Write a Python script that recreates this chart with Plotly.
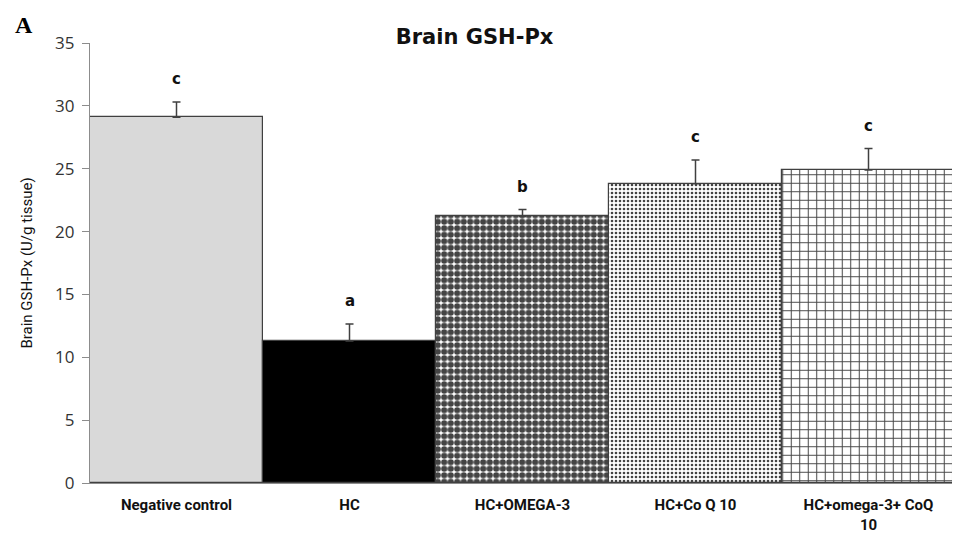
import plotly.graph_objects as go

categories = ["Negative control", "HC", "HC+OMEGA-3", "HC+Co Q 10", "HC+omega-3+ CoQ<br>10"]
means = [29.1, 11.3, 21.2, 23.8, 24.9]
errors = [1.2, 1.35, 0.55, 1.9, 1.7]
letters = ["c", "a", "b", "c", "c"]
tick_vals = [0, 5, 10, 15, 20, 25, 30, 35]

fill_colors = ["#d9d9d9", "#000000", "#ffffff", "#ffffff", "#ffffff"]
pattern_shapes = ["", "", ".", ".", "+"]
pattern_fg = ["#000000", "#000000", "#000000", "#a8a8a8", "#111111"]
pattern_size = [8, 8, 6.5, 4, 8.5]
pattern_solid = [0.3, 0.3, 0.7, 0.33, 0.22]

fig = go.Figure()
fig.add_trace(go.Bar(
    x=categories, y=means,
    marker=dict(
        color=fill_colors,
        line=dict(color="#404040", width=1.2),
        pattern=dict(shape=pattern_shapes, fgcolor=pattern_fg, bgcolor=fill_colors,
                     fgopacity=1, size=pattern_size, solidity=pattern_solid,
                     fillmode="overlay"),
    ),
    error_y=dict(type="data", symmetric=False, array=errors, arrayminus=[0]*len(errors),
                 color="#404040", thickness=1.5, width=4),
    width=1.0,
))

for cat, m, e, l in zip(categories, means, errors, letters):
    fig.add_annotation(x=cat, y=m + e, text=f"<b>{l}</b>", showarrow=False,
                       yshift=23, font=dict(family="DejaVu Sans", size=15, color="#111"))

fig.add_annotation(xref="paper", yref="paper", x=-0.089, y=1.041, text="<b>A</b>",
                   showarrow=False, xanchor="left", yanchor="middle",
                   font=dict(family="Liberation Serif", size=24, color="#000"))

fig.update_layout(
    width=960, height=533,
    margin=dict(l=82, r=13, t=35, b=58),
    paper_bgcolor="white", plot_bgcolor="white",
    title=dict(text="<b>Brain GSH-Px</b>", x=0.486, xanchor="center", y=0.946, yanchor="middle",
               font=dict(family="DejaVu Sans", size=21, color="#111")),
    bargap=0, showlegend=False,
    xaxis=dict(showline=True, linecolor="#8c8c8c", linewidth=1.2, ticks="",
               ticklabelstandoff=8, automargin=False,
               tickfont=dict(family="Roboto", size=15, color="#111"),
               tickprefix="<b>", ticksuffix="</b>"),
    yaxis=dict(range=[0, 35], tickvals=tick_vals, showline=True, linecolor="#8c8c8c",
               linewidth=1.2, ticks="outside", ticklen=7, tickcolor="#8c8c8c",
               ticklabelstandoff=4, automargin=False,
               showgrid=False, zeroline=False,
               tickfont=dict(family="Open Sans", size=17, color="#333"),
               title=dict(text="Brain GSH-Px (U/g tissue)", standoff=18,
                          font=dict(family="Roboto", size=15, color="#111"))),
)

fig.write_html("out.html")
